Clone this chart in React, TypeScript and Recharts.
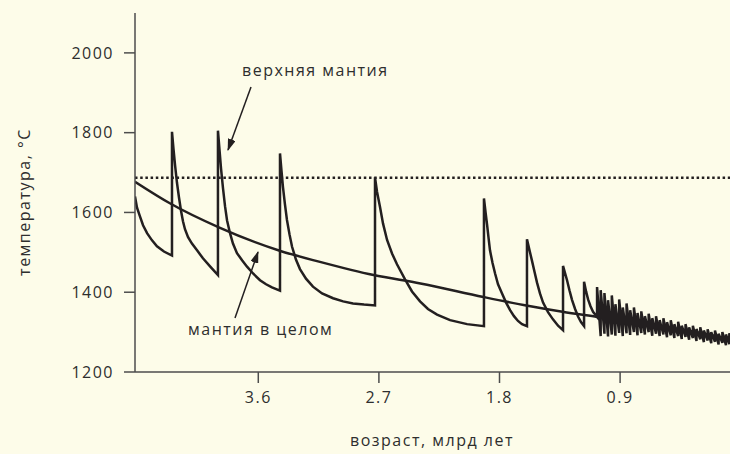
import React from 'react';
import { LineChart, Line, XAxis, YAxis, ReferenceLine } from 'recharts';

// whole mantle (smooth curve)
const wholeAge = [4.52, 4.26, 3.89, 3.44, 3.14, 2.74, 2.39, 1.92, 1.59, 1.33, 1.07, 0.68, 0.3, 0.08];
const wholeTemp = [1677, 1623, 1562, 1504, 1476, 1443, 1422, 1388, 1366, 1351, 1338, 1318, 1298, 1282];

// upper mantle, big teeth (a repeated age is a vertical jump)
const toothAge = [
  4.52, 4.505, 4.483, 4.46, 4.43, 4.393, 4.356, 4.304, 4.244,
  4.244, 4.233, 4.221, 4.207, 4.192, 4.177, 4.162, 4.147, 4.124, 4.095, 4.057, 4.013, 3.96, 3.901,
  3.901, 3.889, 3.878, 3.863, 3.848, 3.833, 3.811, 3.789, 3.759, 3.721, 3.684, 3.639, 3.587, 3.542, 3.498, 3.438,
  3.438, 3.427, 3.416, 3.401, 3.386, 3.367, 3.348, 3.319, 3.289, 3.244, 3.192, 3.124, 3.042, 2.967, 2.893, 2.811, 2.729,
  2.729, 2.714, 2.692, 2.669, 2.639, 2.602, 2.565, 2.505, 2.453, 2.393, 2.334, 2.266, 2.169, 2.042, 1.916,
  1.916, 1.904, 1.893, 1.882, 1.871, 1.852, 1.833, 1.811, 1.781, 1.751, 1.721, 1.692, 1.662, 1.632, 1.595,
  1.595, 1.576, 1.557, 1.538, 1.52, 1.498, 1.475, 1.438, 1.401, 1.363, 1.326,
  1.326, 1.311, 1.296, 1.278, 1.259, 1.236, 1.214, 1.192, 1.169,
  1.169, 1.154, 1.139, 1.121, 1.102,
];
const toothTemp = [
  1640, 1612, 1590, 1568, 1548, 1530, 1515, 1502, 1492,
  1802, 1760, 1718, 1675, 1638, 1605, 1578, 1558, 1538, 1522, 1505, 1485, 1465, 1443,
  1805, 1755, 1710, 1660, 1615, 1580, 1548, 1522, 1498, 1480, 1464, 1447, 1430, 1420, 1412, 1404,
  1748, 1705, 1664, 1620, 1581, 1545, 1514, 1482, 1458, 1434, 1414, 1397, 1385, 1377, 1372, 1369, 1367,
  1688, 1652, 1614, 1572, 1531, 1497, 1470, 1432, 1402, 1377, 1358, 1344, 1330, 1320, 1315,
  1635, 1600, 1570, 1537, 1505, 1473, 1447, 1420, 1397, 1374, 1355, 1340, 1328, 1320, 1315,
  1533, 1505, 1478, 1450, 1424, 1397, 1374, 1350, 1332, 1316, 1305,
  1466, 1448, 1430, 1405, 1381, 1358, 1339, 1325, 1315,
  1426, 1402, 1382, 1365, 1351,
];

// upper mantle, dense ripples at the young end
const rippleAge = [
  1.072, 1.045, 1.017, 0.99, 0.962, 0.935, 0.907, 0.88, 0.852, 0.825,
  0.797, 0.77, 0.742, 0.715, 0.687, 0.66, 0.632, 0.605, 0.577, 0.55,
  0.522, 0.495, 0.467, 0.44, 0.412, 0.385, 0.357, 0.33, 0.302, 0.275,
  0.247, 0.22, 0.192, 0.165, 0.137, 0.11, 0.085,
];
const rippleLow = [
  1338, 1290, 1296, 1289, 1294, 1291, 1298, 1290, 1297, 1293,
  1300, 1292, 1298, 1294, 1300, 1291, 1296, 1290, 1294, 1287,
  1292, 1285, 1290, 1283, 1288, 1281, 1285, 1278, 1282, 1275,
  1279, 1272, 1276, 1269, 1273, 1267, 1270,
];
const rippleHigh = [
  1413, 1405, 1398, 1380, 1392, 1370, 1382, 1362, 1372, 1355,
  1362, 1348, 1352, 1340, 1346, 1335, 1340, 1330, 1335, 1325,
  1330, 1320, 1326, 1316, 1320, 1312, 1316, 1308, 1312, 1304,
  1307, 1300, 1304, 1296, 1300, 1294, 1297,
];
const rippleEnd = { age: 0.075, temp: 1280 };

const xTicks = [3.6, 2.7, 1.8, 0.9];
const yTicks = [1200, 1400, 1600, 1800, 2000];
const solidusTemp = 1687;

const wholeData = wholeAge.map((age, i) => ({ age, temp: wholeTemp[i] }));
const upperData = [
  ...toothAge.map((age, i) => ({ age, temp: toothTemp[i] })),
  ...rippleAge.flatMap((age, i) => [
    { age, temp: rippleLow[i] },
    { age, temp: rippleHigh[i] },
  ]),
  rippleEnd,
];

const INK = '#231f20';
const AXIS = '#4d4d4d';
const FONT = '"Open Sans", sans-serif';
const textStyle = { fontFamily: FONT, fontSize: 16, letterSpacing: 1.5, fill: '#2e2e2e' };

export default function App() {
  return (
    <div style={{ position: 'fixed', left: 0, top: 0, width: 730, height: 454, background: '#fdfce9', overflow: 'hidden' }}>
      <LineChart width={730} height={454} margin={{ top: 13, right: 0, bottom: 42, left: 75 }}>
        <XAxis
          type="number"
          dataKey="age"
          domain={[0.08, 4.52]}
          reversed
          allowDataOverflow
          ticks={xTicks}
          tickFormatter={(v) => v.toFixed(1)}
          height={40}
          tickSize={11}
          tickMargin={9}
          stroke={AXIS}
          strokeWidth={1.5}
          tick={textStyle}
        />
        <YAxis
          type="number"
          domain={[1200, 2100]}
          allowDataOverflow
          ticks={yTicks}
          width={60}
          tickSize={11}
          tickMargin={10}
          stroke={AXIS}
          strokeWidth={1.5}
          tick={textStyle}
        />
        <ReferenceLine y={solidusTemp} stroke={INK} strokeWidth={2.5} strokeDasharray="2.5 2.7" />
        <Line
          data={wholeData}
          dataKey="temp"
          type="monotone"
          stroke={INK}
          strokeWidth={2.5}
          dot={false}
          isAnimationActive={false}
        />
        <Line
          data={upperData}
          dataKey="temp"
          type="linear"
          stroke={INK}
          strokeWidth={2.5}
          strokeLinejoin="miter"
          dot={false}
          isAnimationActive={false}
        />
      </LineChart>
      <svg width={730} height={454} style={{ position: 'absolute', left: 0, top: 0, pointerEvents: 'none' }}>
        <defs>
          <marker id="arrow" viewBox="0 0 12 8" refX="11" refY="4" markerWidth="12" markerHeight="8" markerUnits="userSpaceOnUse" orient="auto">
            <path d="M0,0 L12,4 L0,8 z" fill={INK} />
          </marker>
        </defs>
        <text x={242} y={76} style={textStyle}>верхняя мантия</text>
        <line x1={251} y1={87} x2={228} y2={150} stroke={INK} strokeWidth={1.5} markerEnd="url(#arrow)" />
        <text x={188} y={335} style={textStyle}>мантия в целом</text>
        <line x1={235} y1={318} x2={258} y2={252} stroke={INK} strokeWidth={1.5} markerEnd="url(#arrow)" />
        <text x={432} y={446} textAnchor="middle" style={textStyle}>возраст, млрд лет</text>
        <text x={30} y={202} textAnchor="middle" transform="rotate(-90 30 202)" style={textStyle}>температура, °C</text>
      </svg>
    </div>
  );
}
